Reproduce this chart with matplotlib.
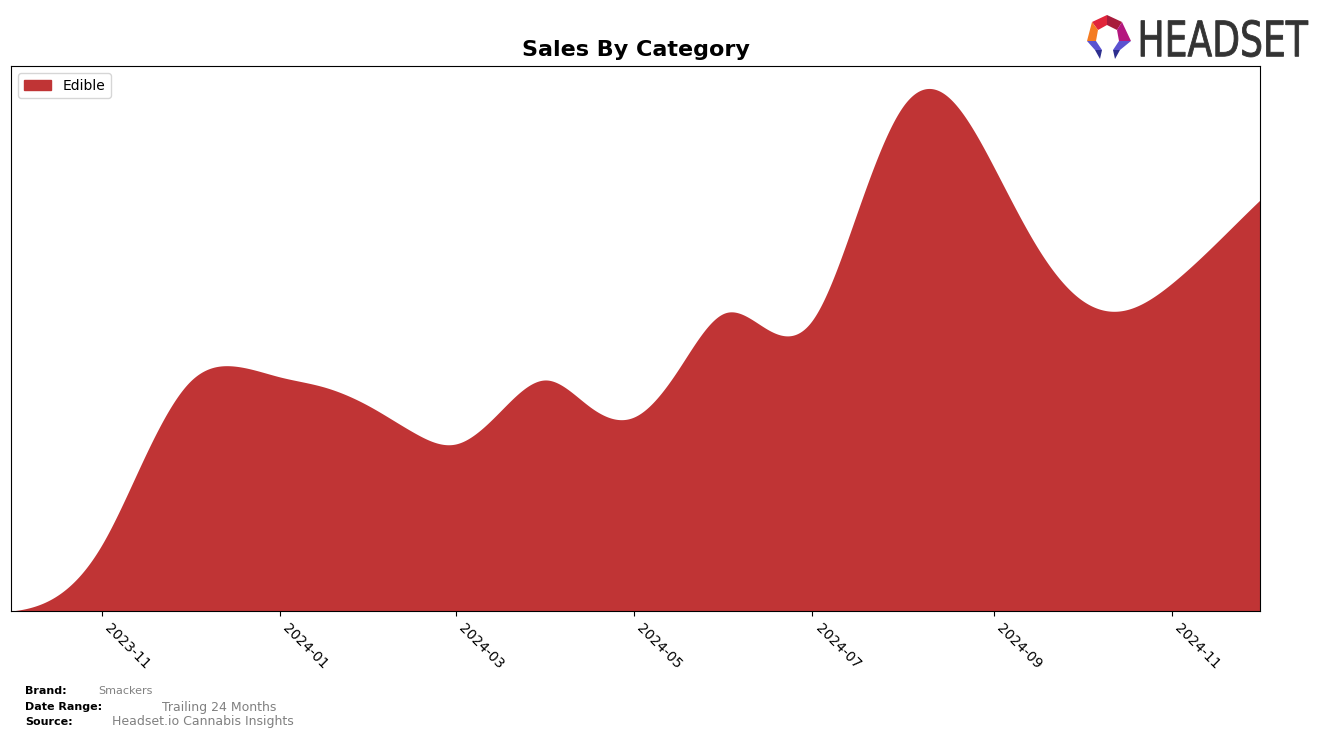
import numpy as np
import matplotlib
matplotlib.use("Agg")
import matplotlib.pyplot as plt
import matplotlib.dates as mdates
import matplotlib.patches as mp
from matplotlib.textpath import TextPath
from matplotlib.font_manager import FontProperties
from matplotlib.transforms import Affine2D
from datetime import date

# half-monthly sales, arbitrary units
dates = ["2023-10-01", "2023-10-16", "2023-11-01", "2023-11-16", "2023-12-01",
         "2023-12-16", "2024-01-01", "2024-01-16", "2024-02-01", "2024-02-16",
         "2024-03-01", "2024-03-16", "2024-04-01", "2024-04-16", "2024-05-01",
         "2024-05-16", "2024-06-01", "2024-06-16", "2024-07-01", "2024-07-16",
         "2024-08-01", "2024-08-16", "2024-09-01", "2024-09-16", "2024-10-01",
         "2024-10-16", "2024-11-01", "2024-11-16", "2024-12-01"]
edible = [0, 14, 66, 156, 229, 245, 234, 224, 204, 178,
          167, 199, 231, 204, 194, 241, 298, 281, 291, 396,
          505, 515, 444, 363, 311, 301, 328, 368, 411]

tick_months = ["2023-11-01", "2024-01-01", "2024-03-01", "2024-05-01",
               "2024-07-01", "2024-09-01", "2024-11-01"]

EDIBLE_COLOUR = "#c03435"


def spline(x, y, xs):
    # cubic spline, not-a-knot ends
    x = np.asarray(x, float)
    y = np.asarray(y, float)
    n = len(x)
    h = np.diff(x)
    A = np.zeros((n, n))
    b = np.zeros(n)
    for i in range(1, n - 1):
        A[i, i - 1] = h[i - 1]
        A[i, i] = 2 * (h[i - 1] + h[i])
        A[i, i + 1] = h[i]
        b[i] = 6 * ((y[i + 1] - y[i]) / h[i] - (y[i] - y[i - 1]) / h[i - 1])
    A[0, 0], A[0, 1], A[0, 2] = h[1], -(h[0] + h[1]), h[0]
    A[-1, -3], A[-1, -2], A[-1, -1] = h[-1], -(h[-2] + h[-1]), h[-2]
    M = np.linalg.solve(A, b)
    idx = np.clip(np.searchsorted(x, xs) - 1, 0, n - 2)
    x0, x1 = x[idx], x[idx + 1]
    hh = x1 - x0
    t0, t1 = x1 - xs, xs - x0
    return (M[idx] * t0**3 / (6 * hh) + M[idx + 1] * t1**3 / (6 * hh)
            + (y[idx] / hh - M[idx] * hh / 6) * t0
            + (y[idx + 1] / hh - M[idx + 1] * hh / 6) * t1)


fig = plt.figure(figsize=(13.24, 7.39), dpi=100)
ax = fig.add_axes([11 / 1324, 1 - 611 / 739, 1249 / 1324, 545 / 739])

xd = mdates.date2num([date.fromisoformat(d) for d in dates])
xs = np.linspace(xd[0], xd[-1], 2000)
ys = np.clip(spline(xd, edible, xs), 0, None)
ax.fill_between(xs, 0, ys, color=EDIBLE_COLOUR, linewidth=0)

ax.set_xlim(xd[0], xd[-1])
ax.set_ylim(0, 520 * 1.048)
ax.set_yticks([])
ax.set_xticks(mdates.date2num([date.fromisoformat(m) for m in tick_months]))
ax.xaxis.set_major_formatter(mdates.DateFormatter("%Y-%m"))
plt.setp(ax.get_xticklabels(), rotation=-45, ha="left", fontsize=10)

ax.legend(handles=[mp.Patch(color=EDIBLE_COLOUR, label="Edible")], loc="upper left",
          fontsize=10)
ax.set_title("Sales By Category", fontsize=16, fontweight="bold", pad=7)

# footer
fig.text(25 / 1324, 1 - 691 / 739, "Brand:", fontsize=8, fontweight="bold", va="center")
fig.text(98 / 1324, 1 - 691 / 739, "Smackers", fontsize=8, color="gray", va="center")
fig.text(25 / 1324, 1 - 707 / 739, "Date Range:", fontsize=8, fontweight="bold", va="center")
fig.text(162 / 1324, 1 - 707 / 739, "Trailing 24 Months", fontsize=9, color="gray", va="center")
fig.text(25 / 1324, 1 - 722 / 739, "Source:", fontsize=8, fontweight="bold", va="center")
fig.text(112 / 1324, 1 - 722 / 739, "Headset.io Cannabis Insights", fontsize=9, color="gray",
         va="center")

# logo (figure pixel coords, y down)
lax = fig.add_axes([0, 0, 1, 1], zorder=-1)
lax.set_xlim(0, 1324)
lax.set_ylim(739, 0)
lax.axis("off")
pieces = [
    ([(1092, 22), (1107, 15), (1107, 25), (1098, 30)], "#e1253b"),
    ([(1107, 15), (1122, 22), (1117, 30), (1107, 25)], "#a81b3c"),
    ([(1087, 41), (1092, 22), (1098, 30), (1096, 41)], "#f47c22"),
    ([(1122, 22), (1131, 41), (1119, 41), (1117, 30)], "#b4177f"),
    ([(1087, 41), (1096, 41), (1102, 50), (1095, 50)], "#5b52d0"),
    ([(1095, 50), (1102, 50), (1100, 59)], "#2d2f8f"),
    ([(1131, 41), (1119, 41), (1113, 50), (1120, 50)], "#5b52d0"),
    ([(1120, 50), (1113, 50), (1115, 59)], "#2d2f8f"),
]
for pts, c in pieces:
    lax.add_patch(mp.Polygon(pts, closed=True, color=c, lw=0))

tp = TextPath((0, 0), "HEADSET", size=10, prop=FontProperties(family="DejaVu Sans"))
bb = tp.get_extents()
sx = (1308 - 1141) / bb.width
sy = (57 - 20) / bb.height
tr = Affine2D().translate(-bb.x0, -bb.y0).scale(sx, -sy).translate(1141, 57)
lax.add_patch(mp.PathPatch(tr.transform_path(tp), color="#333333", lw=0.6))

fig.savefig("out.png", dpi=100)
